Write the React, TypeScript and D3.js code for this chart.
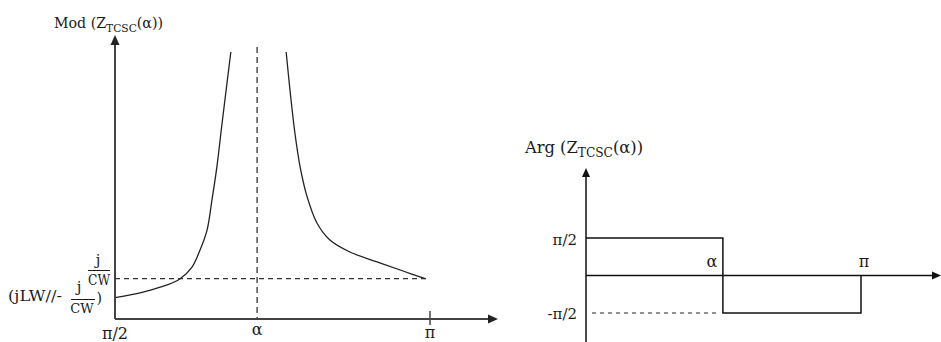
import React from "react";
import * as d3 from "d3";

// ---- data (firing angle in degrees, |Z| in relative units) ----
const modAnglesLow = [90, 98.0, 104.9, 108.6, 112.0, 114.3, 116.3, 117.7, 119.1, 120.6, 122.0, 123.1];
const modValuesLow = [7.5, 9.5, 12.0, 14.2, 18.3, 24.3, 31.3, 41.9, 53.5, 69.0, 83.1, 94.0];
const modAnglesHigh = [138.9, 140.0, 141.4, 142.9, 144.9, 147.7, 151.4, 157.1, 164.9, 172.3, 178.6];
const modValuesHigh = [94.0, 80.6, 65.5, 53.5, 43.0, 33.8, 27.8, 23.6, 20.1, 16.9, 14.2];
const capLevel = 14.2; // j/CW
const resonanceMod = 130.6;
const resonanceArg = 134.8;
const argAngles = [90, 134.8, 134.8, 180, 180];
const argValues = [90, 90, -90, -90, 0];
const leftTicks = ["π/2", "α", "π"];
const rightTicks = ["π/2", "-π/2", "α", "π"];

const W = 941;
const H = 342;
const FONT = "'DejaVu Serif', 'Liberation Serif', serif";
const TXT = "#1a1a1a";

export default function App() {
  const xL = d3.scaleLinear().domain([90, 180]).range([115, 430]);
  const yL = d3.scaleLinear().domain([0, 100]).range([319, 35]);
  const xR = d3.scaleLinear().domain([90, 180]).range([586, 861]);
  const yR = d3.scaleLinear().domain([-90, 90]).range([313, 238]);

  const lineL = d3
    .line<[number, number]>()
    .x((d) => xL(d[0]))
    .y((d) => yL(d[1]))
    .curve(d3.curveCatmullRom.alpha(0.5));
  const lowPts = modAnglesLow.map((a, i) => [a, modValuesLow[i]] as [number, number]);
  const highPts = modAnglesHigh.map((a, i) => [a, modValuesHigh[i]] as [number, number]);

  const argLine = d3
    .line<[number, number]>()
    .x((d) => xR(d[0]))
    .y((d) => yR(d[1]));
  const argPts = argAngles.map((a, i) => [a, argValues[i]] as [number, number]);

  const lx0 = xL(90);
  const ly0 = yL(0);
  const lxEnd = 498;
  const lyTop = yL(100);
  const rx0 = xR(90);
  const ry0 = yR(0);
  const rxEnd = 941;
  const ryTop = 168;

  return (
    <svg
      width={W}
      height={H}
      style={{ position: "absolute", left: 0, top: 0, background: "#fff" }}
      fontFamily={FONT}
    >
      {/* ---------- LEFT: Mod ---------- */}
      <line x1={xL(resonanceMod)} x2={xL(resonanceMod)} y1={47} y2={ly0} stroke="#333" strokeWidth={1.3} strokeDasharray="6,4" />
      <line x1={lx0} x2={xL(179)} y1={yL(capLevel)} y2={yL(capLevel)} stroke="#333" strokeWidth={1.2} strokeDasharray="5,4" />
      <path d={lineL(lowPts) || ""} fill="none" stroke="#222" strokeWidth={1.3} />
      <path d={lineL(highPts) || ""} fill="none" stroke="#222" strokeWidth={1.3} />
      <line x1={lx0} x2={lx0} y1={ly0} y2={lyTop + 8} stroke="#444" strokeWidth={2} />
      <polygon points={`${lx0},${lyTop} ${lx0 - 4.5},${lyTop + 10} ${lx0 + 4.5},${lyTop + 10}`} fill="#222" />
      <line x1={lx0} x2={lxEnd - 8} y1={ly0} y2={ly0} stroke="#444" strokeWidth={2} />
      <polygon points={`${lxEnd},${ly0} ${lxEnd - 10},${ly0 - 4.5} ${lxEnd - 10},${ly0 + 4.5}`} fill="#222" />
      <line x1={xL(180)} x2={xL(180)} y1={ly0 - 8} y2={ly0 + 6} stroke="#444" strokeWidth={1.5} />
      <text x={lx0} y={339} fontSize={16} fill={TXT} textAnchor="middle">{leftTicks[0]}</text>
      <text x={xL(resonanceMod)} y={335} fontSize={16} fill={TXT} textAnchor="middle">{leftTicks[1]}</text>
      <text x={xL(180)} y={338} fontSize={16} fill={TXT} textAnchor="middle">{leftTicks[2]}</text>
      <text x={54} y={28} fontSize={14} fill={TXT} textLength={109} lengthAdjust="spacingAndGlyphs">
        Mod (Z<tspan fontSize={10.5} dy={4}>TCSC</tspan><tspan dy={-4}>(α))</tspan>
      </text>
      {/* j/CW label */}
      <text x={98} y={265} fontSize={15} fill={TXT} textAnchor="middle">j</text>
      <line x1={88} x2={110} y1={270.5} y2={270.5} stroke={TXT} strokeWidth={1} />
      <text x={99} y={285} fontSize={15} fill={TXT} textAnchor="middle" textLength={22} lengthAdjust="spacingAndGlyphs">CW</text>
      {/* (jLW//- j/CW) label */}
      <text x={8} y={301} fontSize={15} fill={TXT} textLength={54} lengthAdjust="spacingAndGlyphs">(jLW//-</text>
      <text x={79} y={292} fontSize={15} fill={TXT} textAnchor="middle">j</text>
      <line x1={71} x2={95} y1={299.5} y2={299.5} stroke={TXT} strokeWidth={1} />
      <text x={82} y={313} fontSize={13} fill={TXT} textAnchor="middle">CW</text>
      <text x={96.5} y={303} fontSize={14} fill={TXT}>)</text>

      {/* ---------- RIGHT: Arg ---------- */}
      <line x1={rx0 + 6} x2={xR(resonanceArg) - 4} y1={yR(-90)} y2={yR(-90)} stroke="#222" strokeWidth={1} strokeDasharray="4,4" />
      <path d={argLine(argPts) || ""} fill="none" stroke="#111" strokeWidth={1.5} />
      <line x1={rx0} x2={rx0} y1={H} y2={ryTop + 8} stroke="#111" strokeWidth={1.5} />
      <polygon points={`${rx0},${ryTop} ${rx0 - 4},${ryTop + 9} ${rx0 + 4},${ryTop + 9}`} fill="#111" />
      <line x1={rx0} x2={rxEnd - 8} y1={ry0} y2={ry0} stroke="#111" strokeWidth={1.5} />
      <polygon points={`${rxEnd},${ry0} ${rxEnd - 9},${ry0 - 4} ${rxEnd - 9},${ry0 + 4}`} fill="#111" />
      <text x={577} y={245} fontSize={15} fill={TXT} textAnchor="end">{rightTicks[0]}</text>
      <text x={577} y={319} fontSize={15} fill={TXT} textAnchor="end">{rightTicks[1]}</text>
      <text x={xR(resonanceArg) - 11} y={267} fontSize={16} fill={TXT} textAnchor="middle">{rightTicks[2]}</text>
      <text x={xR(180) + 3} y={267} fontSize={16} fill={TXT} textAnchor="middle">{rightTicks[3]}</text>
      <text x={525} y={153} fontSize={16} fill={TXT} textLength={118} lengthAdjust="spacingAndGlyphs">
        Arg (Z<tspan fontSize={12} dy={4}>TCSC</tspan><tspan dy={-4}>(α))</tspan>
      </text>
    </svg>
  );
}
